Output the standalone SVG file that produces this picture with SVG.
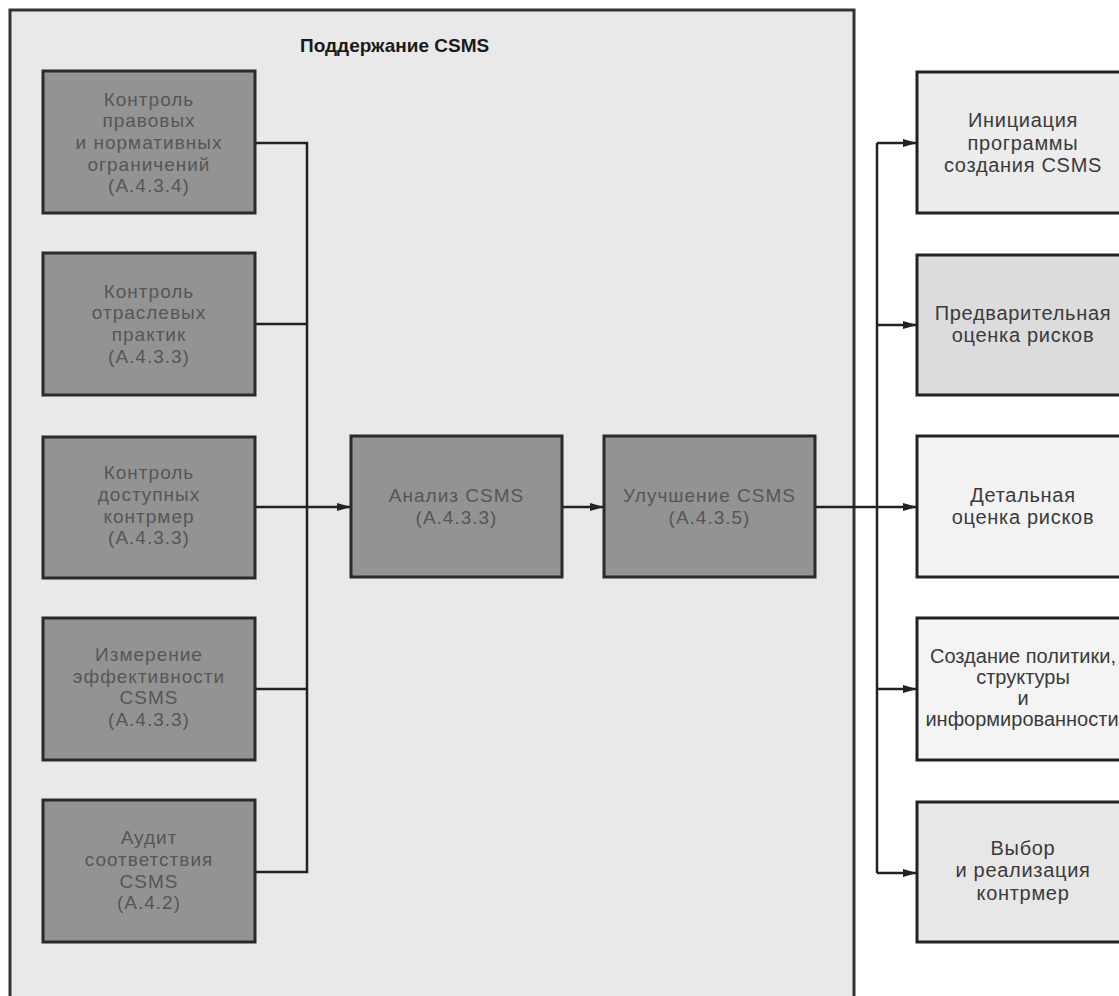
<svg xmlns="http://www.w3.org/2000/svg" width="1119" height="996" viewBox="0 0 1119 996">
<defs>
<marker id="ah" markerWidth="14" markerHeight="10" refX="14" refY="5" orient="auto" markerUnits="userSpaceOnUse">
<path d="M0,1 L14,5 L0,9 Z" fill="#222"/>
</marker>
<style>
.cont{fill:#e9e9e9;stroke:#333;stroke-width:3}
.dark{fill:#939393;stroke:#2a2a2a;stroke-width:3}
.rb{stroke:#222;stroke-width:3}
.dt{font-family:"Liberation Sans",Arial,sans-serif;font-size:19px;fill:#565656;text-anchor:middle;letter-spacing:1px}
.rt{font-family:"Liberation Sans",Arial,sans-serif;font-size:20px;fill:#3a3a3a;text-anchor:middle;letter-spacing:0.7px}
.tight{letter-spacing:0px}
.title{font-family:"Liberation Sans",Arial,sans-serif;font-size:19px;font-weight:bold;fill:#1a1a1a}
.ln{fill:none;stroke:#222;stroke-width:2.5}
</style>
</defs>
<rect x="0" y="0" width="1119" height="996" fill="#ffffff"/>
<g id="container">
<rect class="cont" x="10" y="10" width="844" height="995"/>
<text class="title" x="300" y="52">Поддержание CSMS</text>
</g>
<g id="connectors">
<path class="ln" d="M255,143 H307 V872 H255 M255,324 H307 M255,689 H307"/>
<path class="ln" d="M255,507 H351" marker-end="url(#ah)"/>
<path class="ln" d="M562,507 H604" marker-end="url(#ah)"/>
<path class="ln" d="M815,507 H917" marker-end="url(#ah)"/>
<path class="ln" d="M877,143 V873"/>
<path class="ln" d="M877,143 H917" marker-end="url(#ah)"/>
<path class="ln" d="M877,325 H917" marker-end="url(#ah)"/>
<path class="ln" d="M877,689 H917" marker-end="url(#ah)"/>
<path class="ln" d="M877,873 H917" marker-end="url(#ah)"/>
</g>
<g id="n1">
<rect class="dark" x="43" y="71" width="212" height="142"/>
<text class="dt"><tspan x="149" y="106">Контроль</tspan><tspan x="149" y="127">правовых</tspan><tspan x="149" y="149">и нормативных</tspan><tspan x="149" y="171">ограничений</tspan><tspan x="149" y="192">(A.4.3.4)</tspan></text>
</g>
<g id="n2">
<rect class="dark" x="43" y="253" width="212" height="142"/>
<text class="dt"><tspan x="149" y="298">Контроль</tspan><tspan x="149" y="319">отраслевых</tspan><tspan x="149" y="341">практик</tspan><tspan x="149" y="363">(A.4.3.3)</tspan></text>
</g>
<g id="n3">
<rect class="dark" x="43" y="437" width="212" height="141"/>
<text class="dt"><tspan x="149" y="479">Контроль</tspan><tspan x="149" y="501">доступных</tspan><tspan x="149" y="523">контрмер</tspan><tspan x="149" y="544">(A.4.3.3)</tspan></text>
</g>
<g id="n4">
<rect class="dark" x="43" y="618" width="212" height="142"/>
<text class="dt"><tspan x="149" y="661">Измерение</tspan><tspan x="149" y="683">эффективности</tspan><tspan x="149" y="704">CSMS</tspan><tspan x="149" y="726">(A.4.3.3)</tspan></text>
</g>
<g id="n5">
<rect class="dark" x="43" y="800" width="212" height="142"/>
<text class="dt"><tspan x="149" y="844">Аудит</tspan><tspan x="149" y="866">соответствия</tspan><tspan x="149" y="888">CSMS</tspan><tspan x="149" y="909">(A.4.2)</tspan></text>
</g>
<g id="n6">
<rect class="dark" x="351" y="436" width="211" height="141"/>
<text class="dt"><tspan x="456.5" y="502">Анализ CSMS</tspan><tspan x="456.5" y="524">(A.4.3.3)</tspan></text>
</g>
<g id="n7">
<rect class="dark" x="604" y="436" width="211" height="141"/>
<text class="dt"><tspan x="709.5" y="502">Улучшение CSMS</tspan><tspan x="709.5" y="524">(A.4.3.5)</tspan></text>
</g>
<g id="r1">
<rect class="rb" x="917" y="72" width="215" height="141" fill="#ececec"/>
<text class="rt"><tspan x="1023" y="127">Инициация</tspan><tspan x="1023" y="150">программы</tspan><tspan x="1023" y="172">создания CSMS</tspan></text>
</g>
<g id="r2">
<rect class="rb" x="917" y="255" width="215" height="140" fill="#dcdcdc"/>
<text class="rt"><tspan x="1023" y="320">Предварительная</tspan><tspan x="1023" y="342">оценка рисков</tspan></text>
</g>
<g id="r3">
<rect class="rb" x="917" y="436" width="215" height="141" fill="#f3f3f3"/>
<text class="rt"><tspan x="1023" y="502">Детальная</tspan><tspan x="1023" y="524">оценка рисков</tspan></text>
</g>
<g id="r4">
<rect class="rb" x="917" y="618" width="215" height="142" fill="#f4f4f4"/>
<text class="rt tight"><tspan x="1023" y="663">Создание политики,</tspan><tspan x="1023" y="684">структуры</tspan><tspan x="1023" y="705">и</tspan><tspan x="1022" y="726">информированности</tspan></text>
</g>
<g id="r5">
<rect class="rb" x="917" y="802" width="215" height="140" fill="#e7e7e7"/>
<text class="rt"><tspan x="1023" y="855">Выбор</tspan><tspan x="1023" y="877">и реализация</tspan><tspan x="1023" y="900">контрмер</tspan></text>
</g>
</svg>
